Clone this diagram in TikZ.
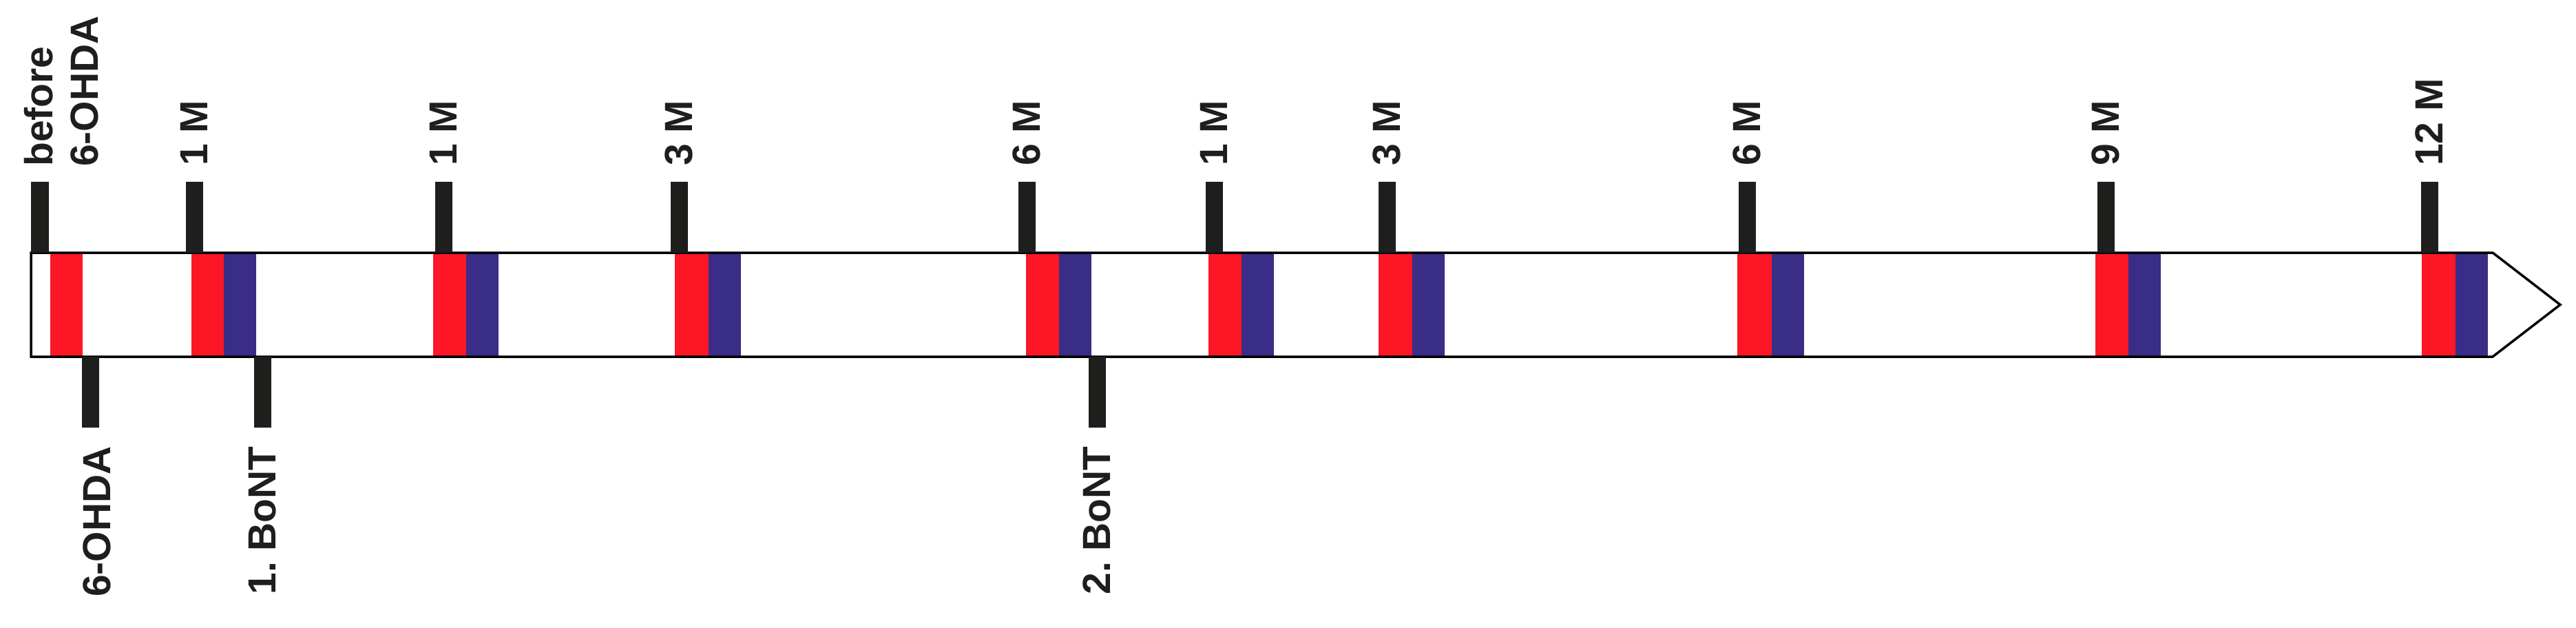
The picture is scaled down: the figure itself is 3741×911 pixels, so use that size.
\documentclass[tikz,border=0pt]{standalone}
\usepackage{fontspec}
\setmainfont{Liberation Sans}
\definecolor{tred}{RGB}{252,22,38}
\definecolor{tblue}{RGB}{58,45,135}
\definecolor{tdark}{RGB}{30,30,28}
\frenchspacing
\begin{document}
\begin{tikzpicture}[x=1pt,y=-1pt,
  lab/.style={font=\fontsize{57}{66}\selectfont\bfseries, text=tdark, inner sep=0pt, rotate=90},
  toplab/.style={lab, anchor=west},
  botlab/.style={lab, anchor=east},
  tickbar/.style={fill=tdark},
  redband/.style={fill=tred},
  blueband/.style={fill=tblue},
  barline/.style={draw=black, line width=3.5pt, line join=miter}]
\useasboundingbox[fill=white] (0,0) rectangle (3741,911);

% time bar body
\fill[white] (45,367) -- (3620,367) -- (3718,442.5) -- (3620,518) -- (45,518) -- cycle;

% colour bands
\fill[redband] (73,367) rectangle (120,518);
\foreach \r/\b in {278/325, 629/677, 980/1029, 1490/1538, 1755/1803, 2002/2051, 2523/2573, 3043/3091, 3517/3566} {
  \fill[redband] (\r,367) rectangle (\b,518);
  \fill[blueband] (\b,367) rectangle (\b+47,518);
}

% outline
\draw[barline] (45,367) -- (3620,367) -- (3718,442.5) -- (3620,518) -- (45,518) -- cycle;

% top ticks and labels
\fill[tickbar] (45,264) rectangle (71,367);
\node[lab, anchor=north west, align=left] (l0) at (35,242) {before\\6-OHDA};
\foreach \c/\t [count=\i] in {282/1 M, 644/1 M, 986/3 M, 1491/6 M, 1763/1 M, 2014/3 M, 2537/6 M, 3058/9 M, 3528/12 M} {
  \fill[tickbar] (\c-12.5,264) rectangle (\c+12.5,367);
  \node[toplab] (t\i) at (\c,241) {\t};
}

% bottom ticks and labels
\foreach \c/\lx/\t [count=\i] in {131/141/6-OHDA, 381/381/1. BoNT, 1593/1593/2. BoNT} {
  \fill[tickbar] (\c-12.5,518) rectangle (\c+12.5,621);
  \node[botlab] (b\i) at (\lx,648) {\t};
}
\end{tikzpicture}
\end{document}
